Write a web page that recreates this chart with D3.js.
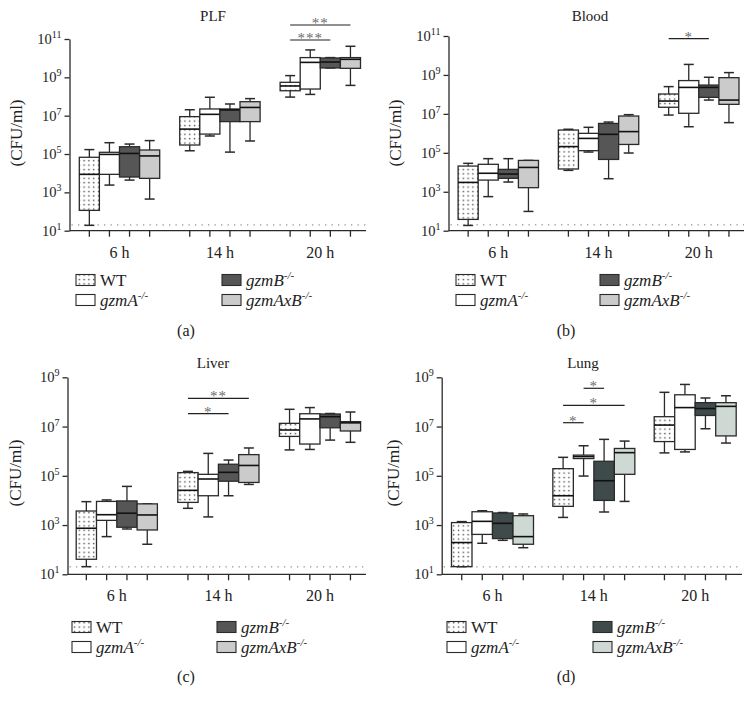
<!DOCTYPE html>
<html><head><meta charset="utf-8">
<script src="https://cdn.jsdelivr.net/npm/d3@7"></script>
<style>
body{margin:0;background:#fff}
svg{display:block}
text{font-family:"Liberation Serif","DejaVu Serif",serif;fill:#222}
</style>
</head><body>
<svg id="chart" width="755" height="711"></svg>
<script>
// ---------- DATA ----------
const timepoints = ["6 h", "14 h", "20 h"];
const genotypes = ["WT", "gzmA", "gzmB", "gzmAxB"];
const legendNames = ["WT", "gzmA", "gzmB", "gzmAxB"];
const legendSup = ["", "-/-", "-/-", "-/-"];
const detectionLimit = 20; // CFU/ml
const tickExpsTall = [1, 3, 5, 7, 9, 11];
const tickExpsShort = [1, 3, 5, 7, 9];

// box statistics, log10 CFU/ml: [whiskerLow, Q1, median, Q3, whiskerHigh]
const plfStats = [
  [[1.28,2.06,3.94,4.83,5.23],[3.38,3.94,4.98,5.09,5.59],[3.64,3.80,5.03,5.38,5.52],[2.65,3.73,4.90,5.21,5.70]],
  [[5.17,5.47,6.30,6.95,7.31],[5.94,6.04,7.07,7.35,7.96],[5.10,6.69,7.30,7.35,7.61],[5.68,6.69,7.43,7.73,7.89]],
  [[7.97,8.30,8.55,8.74,9.09],[8.11,8.39,9.78,10.03,10.43],[9.49,9.49,9.80,10.01,10.03],[8.58,9.47,9.94,10.03,10.62]]
];
const bloodStats = [
  [[1.27,1.58,3.48,4.32,4.46],[2.75,3.60,3.95,4.41,4.70],[3.50,3.69,3.91,4.15,4.70],[1.99,3.21,4.25,4.61,4.61]],
  [[4.10,4.17,5.32,6.17,6.21],[5.04,5.11,5.74,6.00,6.31],[3.67,4.66,5.95,6.51,6.58],[4.99,5.43,6.09,6.89,6.96]],
  [[6.94,7.34,7.66,8.02,8.40],[6.34,7.03,8.36,8.71,9.54],[7.71,7.85,8.36,8.48,8.88],[6.55,7.49,7.71,8.86,9.12]]
];
const liverStats = [
  [[1.31,1.61,2.87,3.57,3.95],[2.53,3.19,3.42,3.96,4.02],[2.84,2.91,3.48,3.98,4.57],[2.22,2.80,3.41,3.86,3.86]],
  [[3.68,3.92,4.41,5.13,5.18],[3.33,4.19,4.87,5.06,5.91],[4.19,4.78,5.14,5.47,5.64],[4.65,4.73,5.42,5.86,6.13]],
  [[6.05,6.60,6.86,7.13,7.70],[6.07,6.29,7.31,7.52,7.77],[6.45,6.95,7.40,7.51,7.53],[6.36,6.82,7.15,7.20,7.59]]
];
const lungStats = [
  [[1.31,1.31,2.29,3.10,3.14],[2.26,2.62,3.15,3.54,3.58],[2.38,2.45,3.07,3.49,3.51],[2.08,2.22,2.53,3.38,3.45]],
  [[3.31,3.76,4.19,5.29,5.75],[4.99,5.70,5.78,5.84,6.22],[3.53,4.00,4.80,5.59,6.48],[3.96,5.06,5.94,6.11,6.41]],
  [[5.93,6.39,7.06,7.40,8.39],[5.97,6.07,7.77,8.29,8.71],[6.91,7.45,7.73,7.97,8.16],[6.33,6.62,7.82,7.97,8.25]]
];

// significance brackets: [timepoint, from genotype, to genotype, label]
const plfSig = [["20 h","WT","gzmAxB","**"],["20 h","WT","gzmB","***"]];
const bloodSig = [["20 h","WT","gzmB","*"]];
const liverSig = [["14 h","WT","gzmAxB","**"],["14 h","WT","gzmB","*"]];
const lungSig = [["14 h","gzmA","gzmB","*"],["14 h","WT","gzmAxB","*"],["14 h","WT","gzmA","*"]];

// ---------- LAYOUT ----------
const greyFills = ["url(#dots)", "#ffffff", "#565656", "#cbcbcb"];
const slateFills = ["url(#dots)", "#ffffff", "#3f4b4b", "#cfd9d4"];

const panels = [
  {title:"PLF", caption:"(a)", stats:plfStats, sig:plfSig, sigY:[25,40], topExp:11, ticks:tickExpsTall,
   axisX:69.5, axisRight:366, yRange:[230.7,39], groupRange:[119.5,320.3], step:20.1,
   titleXY:[213,21], ylab:[16,133], capXY:[186,336], legX:[76,222], legY:[280,300], fills:greyFills},
  {title:"Blood", caption:"(b)", stats:bloodStats, sig:bloodSig, sigY:[38.7], topExp:11, ticks:tickExpsTall,
   axisX:448.5, axisRight:744, yRange:[230.7,36], groupRange:[498.3,698.8], step:20.1,
   titleXY:[590,21], ylab:[395,133], capXY:[566,336], legX:[456,600], legY:[280,300], fills:greyFills},
  {title:"Liver", caption:"(c)", stats:liverStats, sig:liverSig, sigY:[398.3,413.7], topExp:9, ticks:tickExpsShort,
   axisX:67.5, axisRight:366, yRange:[574.3,377.3], groupRange:[116.8,320], step:20.3,
   titleXY:[213,368], ylab:[15,473], capXY:[186,682], legX:[72,217], legY:[627,647], fills:greyFills},
  {title:"Lung", caption:"(d)", stats:lungStats, sig:lungSig, sigY:[388.3,405.3,422.7], topExp:9, ticks:tickExpsShort,
   axisX:441.7, axisRight:742, yRange:[574.3,377.3], groupRange:[492.5,695.2], step:20.5,
   titleXY:[583,368], ylab:[393,473], capXY:[566,682], legX:[447,593], legY:[627,647], fills:slateFills}
];

const svg = d3.select("#chart");
const defs = svg.append("defs");
const pat = defs.append("pattern").attr("id","dots").attr("patternUnits","userSpaceOnUse")
  .attr("width",4.8).attr("height",4.4);
pat.append("rect").attr("width",4.8).attr("height",4.4).attr("fill","#fff");
pat.append("rect").attr("x",1.8).attr("y",1.6).attr("width",1.4).attr("height",1.4).attr("fill","#4a4a4a");

const strokeC = "#2a2a2a";

function drawPanel(cfg){
  const g = svg.append("g");
  const y = d3.scaleLog().domain([10, Math.pow(10,cfg.topExp)]).range(cfg.yRange);
  const xg = d3.scalePoint().domain(timepoints).range(cfg.groupRange);
  const xb = d3.scaleBand().domain(genotypes).range([-2*cfg.step, 2*cfg.step]);
  const bw = xb.bandwidth();
  const cx = (t,gn) => xg(t) + xb(gn) + bw/2;
  const y0 = y(10);

  // detection limit
  g.append("line").attr("x1",cfg.axisX+2).attr("x2",cfg.axisRight)
    .attr("y1",y(detectionLimit)).attr("y2",y(detectionLimit))
    .attr("stroke","#777").attr("stroke-width",1).attr("stroke-dasharray","1.3,5.2");

  // boxes
  cfg.stats.forEach((grp, ti) => grp.forEach((s, gi) => {
    const t = timepoints[ti], gn = genotypes[gi];
    const v = s.map(e => Math.pow(10,e));
    const c = cx(t,gn), x0 = xg(t) + xb(gn);
    const bg = g.append("g").attr("stroke",strokeC).attr("stroke-width",1.3);
    bg.append("line").attr("x1",c).attr("x2",c).attr("y1",y(v[0])).attr("y2",y(v[1]));
    bg.append("line").attr("x1",c).attr("x2",c).attr("y1",y(v[3])).attr("y2",y(v[4]));
    bg.append("line").attr("x1",c-5).attr("x2",c+5).attr("y1",y(v[0])).attr("y2",y(v[0])).attr("stroke-width",1.5);
    bg.append("line").attr("x1",c-5).attr("x2",c+5).attr("y1",y(v[4])).attr("y2",y(v[4])).attr("stroke-width",1.5);
    bg.append("rect").attr("x",x0).attr("y",y(v[3])).attr("width",bw)
      .attr("height",Math.max(0.5,y(v[1])-y(v[3]))).attr("fill",cfg.fills[gi]);
    bg.append("line").attr("x1",x0).attr("x2",x0+bw).attr("y1",y(v[2])).attr("y2",y(v[2]))
      .attr("stroke","#111").attr("stroke-width",1.6);
  }));

  // y axis
  const yAxis = d3.axisLeft(y).tickValues(cfg.ticks.map(e=>Math.pow(10,e)))
    .tickFormat(()=>"").tickSize(5).tickSizeOuter(0);
  const ya = g.append("g").attr("transform",`translate(${cfg.axisX},0)`).call(yAxis);
  ya.selectAll("path,line").attr("stroke",strokeC).attr("stroke-width",1.3);
  cfg.ticks.forEach(e => {
    const tx = g.append("text").attr("x",cfg.axisX-8).attr("y",y(Math.pow(10,e))+5)
      .attr("text-anchor","end").style("font-size","14.5px");
    tx.append("tspan").text("10");
    tx.append("tspan").attr("dy",-6).style("font-size","10px").text(String(e));
  });

  // x axis
  g.append("line").attr("x1",cfg.axisX).attr("x2",cfg.axisRight).attr("y1",y0).attr("y2",y0)
    .attr("stroke",strokeC).attr("stroke-width",1.3);
  timepoints.forEach(t => {
    genotypes.forEach(gn => {
      g.append("line").attr("x1",cx(t,gn)).attr("x2",cx(t,gn)).attr("y1",y0).attr("y2",y0+6)
        .attr("stroke",strokeC).attr("stroke-width",1.3);
    });
    g.append("text").attr("x",xg(t)).attr("y",y0+27).attr("text-anchor","middle")
      .style("font-size","16px").text(t);
  });

  // significance
  cfg.sig.forEach((s,i) => {
    const ly = cfg.sigY[i];
    const a = cx(s[0],s[1]), b = cx(s[0],s[2]);
    g.append("line").attr("x1",a).attr("x2",b).attr("y1",ly).attr("y2",ly)
      .attr("stroke","#222").attr("stroke-width",1.2);
    g.append("text").attr("x",(a+b)/2).attr("y",ly+3).attr("text-anchor","middle")
      .style("font-size","15px").style("fill","#6a6a6a").style("letter-spacing","1px").text(s[3]);
  });

  // title
  g.append("text").attr("x",cfg.titleXY[0]).attr("y",cfg.titleXY[1]).attr("text-anchor","middle")
    .style("font-size","15px").text(cfg.title);
  // y label
  g.append("text").attr("transform",`translate(${cfg.ylab[0]},${cfg.ylab[1]}) rotate(-90)`)
    .attr("text-anchor","middle").attr("dy","0.35em").style("font-size","17px").text("(CFU/ml)");

  // legend
  const order = [[0,0,0],[2,1,0],[1,0,1],[3,1,1]];
  order.forEach(([gi,col,row]) => {
    const lx = cfg.legX[col], ly = cfg.legY[row];
    g.append("rect").attr("x",lx).attr("y",ly-5.5).attr("width",19).attr("height",11)
      .attr("fill",cfg.fills[gi]).attr("stroke",strokeC).attr("stroke-width",1.1);
    const tx = g.append("text").attr("x",lx+24).attr("y",ly+5.5).style("font-size","17px");
    tx.append("tspan").style("font-style", gi===0 ? "normal" : "italic").text(legendNames[gi]);
    if (legendSup[gi]) tx.append("tspan").attr("dy",-7).style("font-size","11px").style("font-style","italic").text(legendSup[gi]);
  });

  // caption
  g.append("text").attr("x",cfg.capXY[0]).attr("y",cfg.capXY[1]).attr("text-anchor","middle")
    .style("font-size","16px").text(cfg.caption);
}

panels.forEach(drawPanel);
</script>
</body></html>
